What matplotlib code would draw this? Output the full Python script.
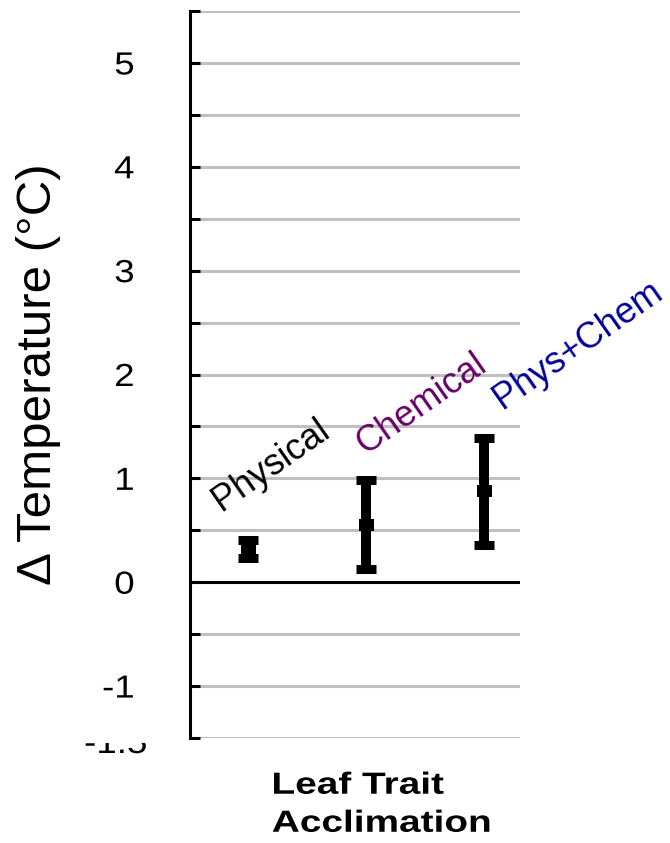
import numpy as np
import matplotlib
matplotlib.use("Agg")
import matplotlib.pyplot as plt
from matplotlib.patheffects import AbstractPathEffect
from matplotlib.transforms import Affine2D, Bbox, TransformedBbox

plt.rcParams['font.family'] = ['Liberation Sans', 'DejaVu Sans']

groups = ["Physical", "Chemical", "Phys+Chem"]
group_colors = ["black", "#660066", "#000099"]
mean_dt = [0.32, 0.55, 0.88]
low_dt = [0.23, 0.13, 0.36]
high_dt = [0.41, 0.98, 1.39]

ytick_vals = np.arange(-1.5, 5.51, 0.5)
ytick_text = ["" if v % 1 else f"{v:g}" for v in ytick_vals]


class Widen(AbstractPathEffect):
    """Stretch glyphs along the baseline around a pivot (0 = left, 1 = right)."""

    def __init__(self, sx=1.27, pivot=0.0):
        super().__init__()
        self.sx = sx
        self.pivot = pivot

    def draw_path(self, renderer, gc, tpath, affine, rgbFace=None):
        ext = tpath.get_extents()
        x0 = ext.x0 + self.pivot * ext.width
        wide = Affine2D().translate(-x0, 0).scale(self.sx, 1).translate(x0, 0)
        renderer.draw_path(gc, tpath, wide + affine, rgbFace)


fig = plt.figure(figsize=(6.7, 8.43), dpi=100)
ax = fig.add_axes([190 / 670, 1 - 738 / 843, 330 / 670, 727 / 843])

x = np.arange(1, len(groups) + 1)
mean = np.array(mean_dt)
yerr = [mean - np.array(low_dt), np.array(high_dt) - mean]

# flat rectangle for the mean marker
box = [(-0.75, -0.6), (0.75, -0.6), (0.75, 0.6), (-0.75, 0.6), (-0.75, -0.6)]
ax.errorbar(x, mean, yerr=yerr, fmt='none', ecolor='black',
            elinewidth=7.2, capsize=7.2, capthick=6.5, zorder=4)
ax.plot(x, mean, ls='none', marker=box, ms=10.8, color='black', mew=0, zorder=5)

ax.axhline(0, color='black', lw=2.2, zorder=3)

ax.set_xlim(0.506, 3.31)
ax.set_ylim(-1.5, 5.5)
ax.set_yticks(ytick_vals)
ax.set_yticklabels(ytick_text)
ax.set_xticks([])
ax.set_axisbelow(True)
ax.yaxis.grid(True, color='#c0c0c0', lw=2.2)
for side in ['top', 'right', 'bottom']:
    ax.spines[side].set_visible(False)
ax.spines['left'].set_linewidth(2.2)
ax.tick_params(axis='y', direction='in', length=7.5, width=2.2,
               labelsize=23, pad=40)
for lbl in ax.get_yticklabels():
    lbl.set_path_effects([Widen(1.15, 1.0)])

# group names written diagonally above each bar
label_pos = [(1.19, 1.13), (2.47, 1.71), (3.80, 2.28)]
for name, col, (tx, ty) in zip(groups, group_colors, label_pos):
    ax.text(tx, ty, name, rotation=35, rotation_mode='anchor',
            ha='center', va='center', fontsize=26, color=col, clip_on=False)

ax.set_ylabel("\u0394 Temperature (\u00b0C)", fontsize=35.5, va='center')
ax.yaxis.set_label_coords(-0.459, 0.5)

ax.set_xlabel("Leaf Trait\nAcclimation", fontsize=22, fontweight='bold',
              ha='left', multialignment='left', linespacing=1.35,
              path_effects=[Widen(1.27, 0.0)])
ax.xaxis.set_label_coords((272 - 190) / 330, -0.045)

# bottom label, only its lower edge shows under the axis
low_lbl = fig.text(147 / 670, 1 - 753 / 843, "-1.5", ha='right', va='baseline',
                   fontsize=23, path_effects=[Widen(1.15, 1.0)])
low_lbl.set_clip_box(TransformedBbox(Bbox.from_extents(0, 0, 1, 1 - 743 / 843),
                                     fig.transFigure))
low_lbl.set_clip_on(True)

fig.savefig("out.png", dpi=100)
